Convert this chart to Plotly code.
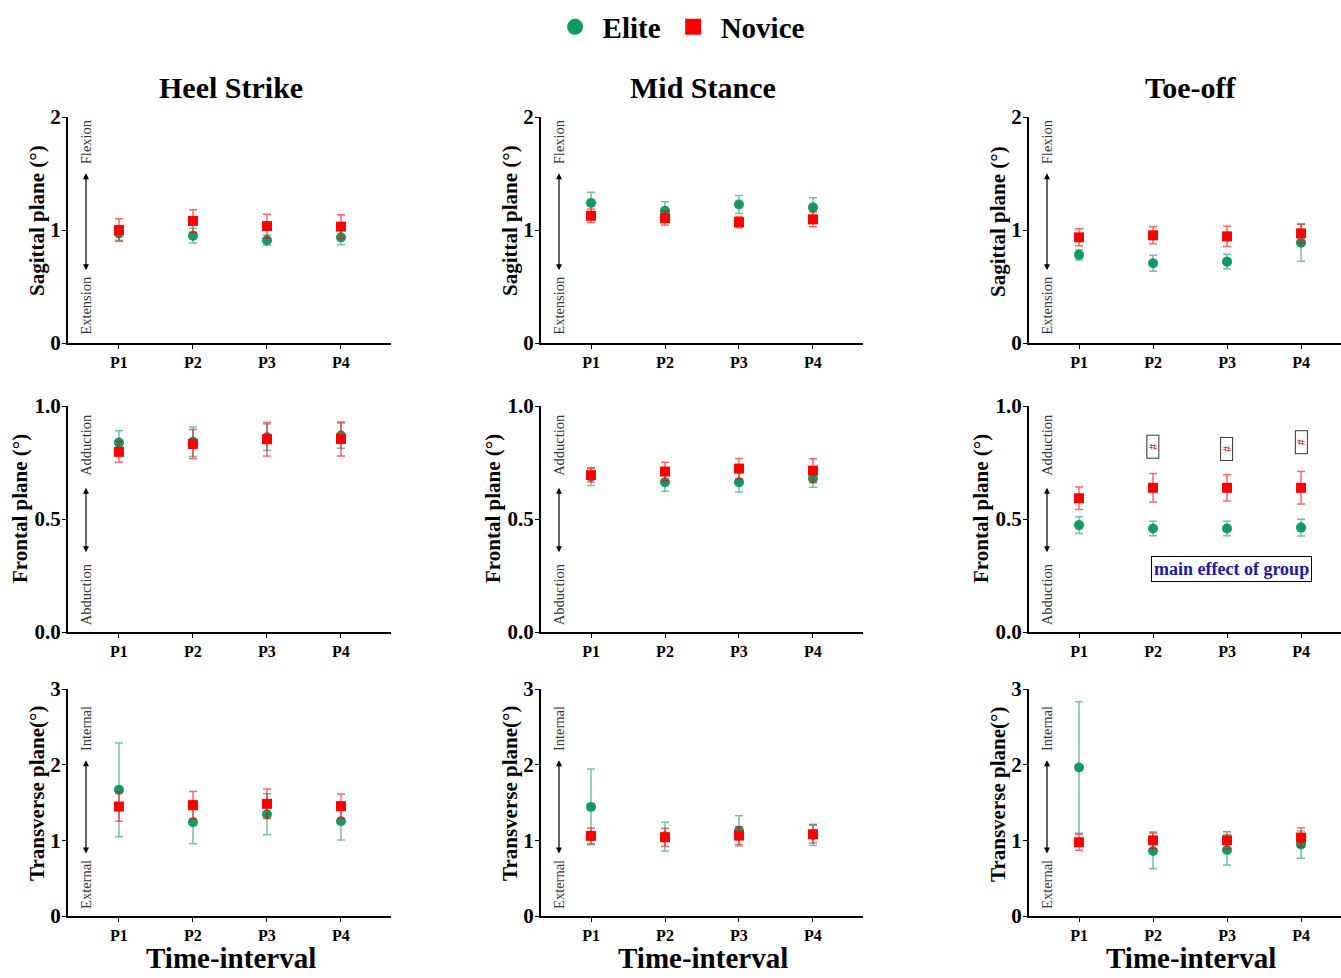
import plotly.graph_objects as go
from plotly.subplots import make_subplots

categories = ["P1", "P2", "P3", "P4"]
col_titles = ["Heel Strike", "Mid Stance", "Toe-off"]
row_titles = ["Sagittal plane (°)", "Frontal plane (°)", "Transverse plane(°)"]
row_ticks = [["0", "1", "2"], ["0.0", "0.5", "1.0"], ["0", "1", "2", "3"]]
row_tickvals = [[0, 1, 2], [0, 0.5, 1.0], [0, 1, 2, 3]]
row_ranges = [[0, 2], [0, 1], [0, 3]]
dir_labels = [("Flexion", "Extension"), ("Adduction", "Abduction"), ("Internal", "External")]

# Sagittal
hs_sag_elite = [0.97, 0.95, 0.91, 0.935]
hs_sag_elite_err = [0.06, 0.065, 0.045, 0.065]
hs_sag_novice = [1.00, 1.08, 1.035, 1.03]
hs_sag_novice_err = [0.10, 0.10, 0.105, 0.105]
ms_sag_elite = [1.24, 1.17, 1.226, 1.20]
ms_sag_elite_err = [0.095, 0.08, 0.08, 0.085]
ms_sag_novice = [1.126, 1.105, 1.07, 1.094]
ms_sag_novice_err = [0.06, 0.06, 0.05, 0.065]
to_sag_elite = [0.78, 0.706, 0.72, 0.888]
to_sag_elite_err = [0.045, 0.07, 0.065, 0.165]
to_sag_novice = [0.935, 0.953, 0.944, 0.97]
to_sag_novice_err = [0.075, 0.075, 0.09, 0.08]
# Frontal
hs_fr_elite = [0.838, 0.842, 0.862, 0.869]
hs_fr_elite_err = [0.053, 0.065, 0.058, 0.056]
hs_fr_novice = [0.797, 0.832, 0.853, 0.854]
hs_fr_novice_err = [0.046, 0.064, 0.074, 0.075]
ms_fr_elite = [0.688, 0.663, 0.663, 0.679]
ms_fr_elite_err = [0.04, 0.04, 0.043, 0.038]
ms_fr_novice = [0.694, 0.71, 0.723, 0.714]
ms_fr_novice_err = [0.03, 0.041, 0.045, 0.053]
to_fr_elite = [0.473, 0.458, 0.458, 0.462]
to_fr_elite_err = [0.037, 0.032, 0.032, 0.037]
to_fr_novice = [0.592, 0.638, 0.638, 0.638]
to_fr_novice_err = [0.05, 0.063, 0.058, 0.072]
# Transverse
hs_tr_elite = [1.667, 1.24, 1.345, 1.253]
hs_tr_elite_err = [0.62, 0.285, 0.27, 0.25]
hs_tr_novice = [1.447, 1.464, 1.482, 1.451]
hs_tr_novice_err = [0.195, 0.18, 0.195, 0.16]
ms_tr_elite = [1.442, 1.05, 1.125, 1.072]
ms_tr_elite_err = [0.50, 0.19, 0.2, 0.14]
ms_tr_novice = [1.059, 1.041, 1.063, 1.081]
ms_tr_novice_err = [0.105, 0.12, 0.117, 0.117]
to_tr_elite = [1.963, 0.86, 0.873, 0.944]
to_tr_elite_err = [0.87, 0.235, 0.2, 0.18]
to_tr_novice = [0.975, 1.0, 1.0, 1.037]
to_tr_novice_err = [0.105, 0.11, 0.115, 0.128]

panels = [
    [(hs_sag_elite, hs_sag_elite_err, hs_sag_novice, hs_sag_novice_err),
     (ms_sag_elite, ms_sag_elite_err, ms_sag_novice, ms_sag_novice_err),
     (to_sag_elite, to_sag_elite_err, to_sag_novice, to_sag_novice_err)],
    [(hs_fr_elite, hs_fr_elite_err, hs_fr_novice, hs_fr_novice_err),
     (ms_fr_elite, ms_fr_elite_err, ms_fr_novice, ms_fr_novice_err),
     (to_fr_elite, to_fr_elite_err, to_fr_novice, to_fr_novice_err)],
    [(hs_tr_elite, hs_tr_elite_err, hs_tr_novice, hs_tr_novice_err),
     (ms_tr_elite, ms_tr_elite_err, ms_tr_novice, ms_tr_novice_err),
     (to_tr_elite, to_tr_elite_err, to_tr_novice, to_tr_novice_err)],
]

sig_marks = ["P2", "P3", "P4"]
sig_y = [0.82, 0.81, 0.84]

W, H = 1341, 978
ELITE = "#139a63"
ELITE_ERR = "rgba(19,154,99,0.6)"
NOVICE = "#ff0000"
NOVICE_ERR = "rgba(255,0,0,0.6)"
FONT = "Liberation Serif"

col_px = [(68, 391), (541, 863), (1029, 1341)]
row_px = [(117, 343), (406, 632), (689, 916)]
x_ranges = [[-0.689, 3.676], [-0.676, 3.676], [-0.676, 3.54]]

fig = make_subplots(rows=3, cols=3)

for r in range(3):
    for c in range(3):
        e, ee, n, ne = panels[r][c]
        fig.add_trace(go.Scatter(
            x=categories, y=e, mode="markers", name="Elite", showlegend=False,
            marker=dict(symbol="circle", size=10, color=ELITE),
            error_y=dict(type="data", array=ee, color=ELITE_ERR, thickness=1.5, width=4),
        ), row=r + 1, col=c + 1)
        fig.add_trace(go.Scatter(
            x=categories, y=n, mode="markers", name="Novice", showlegend=False,
            marker=dict(symbol="square", size=10, color=NOVICE),
            error_y=dict(type="data", array=ne, color=NOVICE_ERR, thickness=1.5, width=4),
        ), row=r + 1, col=c + 1)

# legend entries (bigger symbols, as in the reference legend)
fig.add_trace(go.Scatter(x=[None], y=[None], mode="markers", name="Elite",
                         marker=dict(symbol="circle", size=22, color=ELITE)), row=1, col=1)
fig.add_trace(go.Scatter(x=[None], y=[None], mode="markers", name="Novice",
                         marker=dict(symbol="square", size=20, color=NOVICE)), row=1, col=1)

annotations = []
for r in range(3):
    for c in range(3):
        idx = r * 3 + c + 1
        xa = "xaxis" if idx == 1 else f"xaxis{idx}"
        ya = "yaxis" if idx == 1 else f"yaxis{idx}"
        x0, x1 = col_px[c]
        y0, y1 = row_px[r]
        fig.layout[xa].update(
            domain=[x0 / W, x1 / W], range=x_ranges[c], type="category",
            showline=True, linecolor="black", linewidth=2, ticks="outside",
            ticklen=4, tickcolor="black", showgrid=False, zeroline=False,
            tickfont=dict(family=FONT, size=16, color="black", weight="bold"),
        )
        fig.layout[ya].update(
            domain=[1 - y1 / H, 1 - y0 / H], range=row_ranges[r],
            tickvals=row_tickvals[r], ticktext=row_ticks[r],
            showline=True, linecolor="black", linewidth=2, ticks="outside",
            ticklen=4, tickcolor="black", showgrid=False, zeroline=False,
            ticklabelstandoff=-3,
            tickfont=dict(family=FONT, size=21, color="black", weight="bold"),
        )
        xr = "x" if idx == 1 else f"x{idx}"
        yr = "y" if idx == 1 else f"y{idx}"
        arrow_pos = [(1.503, 0.63), (0.638, 0.346), (2.06, 0.806)][r]
        lab_pos = [(1.777, 0.33), (0.828, 0.167), (2.47, 0.41)][r]
        xd = 18 / (x1 - x0)
        annotations.append(dict(
            xref=f"{xr} domain", yref=yr, axref=f"{xr} domain", ayref=yr,
            x=xd, y=arrow_pos[0], ax=xd, ay=arrow_pos[1], text="",
            showarrow=True, arrowhead=2, startarrowhead=2, arrowside="end+start",
            arrowsize=1, arrowwidth=1.2, arrowcolor="black",
        ))
        for txt, yy in zip(dir_labels[r], lab_pos):
            annotations.append(dict(
                xref=f"{xr} domain", yref=yr, x=xd, y=yy, text=txt, textangle=-90,
                xanchor="center", yanchor="middle",
                showarrow=False, font=dict(family=FONT, size=14.5, color="#333333"),
            ))
        ytitle_x = [37, 20, 37][r] + (x0 - 68)
        ytitle_y = [221, 509, 794][r]
        annotations.append(dict(
            xref="paper", yref="paper", x=ytitle_x / W, y=1 - ytitle_y / H,
            xanchor="center", yanchor="middle",
            text=row_titles[r], textangle=-90, showarrow=False,
            font=dict(family=FONT, size=21, color="black", weight="bold"),
        ))

title_cx = [231, 703, 1191]
for c in range(3):
    annotations.append(dict(
        xref="paper", yref="paper", x=title_cx[c] / W, y=1 - 87 / H,
        xanchor="center", yanchor="middle",
        text=col_titles[c], showarrow=False,
        font=dict(family=FONT, size=30, color="black", weight="bold"),
    ))
    annotations.append(dict(
        xref="paper", yref="paper", x=title_cx[c] / W, y=1 - 958 / H,
        xanchor="center", yanchor="middle",
        text="Time-interval", showarrow=False,
        font=dict(family=FONT, size=29, color="black", weight="bold"),
    ))

for cat, yy in zip(sig_marks, sig_y):
    annotations.append(dict(
        xref="x6", yref="y6", x=cat, y=yy, text="#", textangle=-90, showarrow=False,
        width=20, height=9, xanchor="center", yanchor="middle",
        font=dict(family=FONT, size=12, color="#b01010"),
        bordercolor="#333333", borderwidth=1, borderpad=1,
    ))
annotations.append(dict(
    xref="x6 domain", yref="y6", x=(1231 - 1029) / 312, y=0.277,
    xanchor="center", yanchor="middle",
    text="main effect of group", showarrow=False,
    font=dict(family=FONT, size=18, color="#1a1aa6", weight="bold"),
    bordercolor="black", borderwidth=1, borderpad=2,
))

fig.update_layout(
    width=W, height=H, margin=dict(l=0, r=0, t=0, b=0, autoexpand=False),
    paper_bgcolor="white", plot_bgcolor="white",
    annotations=annotations,
    legend=dict(orientation="h", x=0.506, xanchor="center", y=1 - 27 / H, yanchor="middle",
                font=dict(family=FONT, size=29, color="black", weight="bold"),
                itemsizing="trace", itemwidth=45),
)

fig.write_html("out.html")
